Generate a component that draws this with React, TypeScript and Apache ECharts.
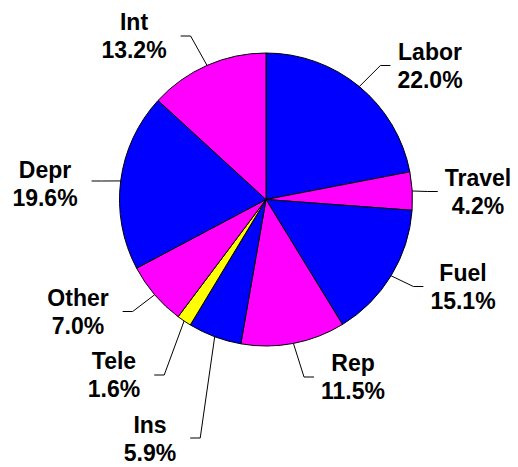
import React, { useEffect, useRef } from "react";
import * as echarts from "echarts";

const categories = ["Labor", "Travel", "Fuel", "Rep", "Ins", "Tele", "Other", "Depr", "Int"];
const values = [22.0, 4.2, 15.1, 11.5, 5.9, 1.6, 7.0, 19.6, 13.2];
const sliceColors = ["#0000FF", "#FF00FF", "#0000FF", "#FF00FF", "#0000FF", "#FFFF00", "#FF00FF", "#0000FF", "#FF00FF"];

// label block centers (layout only)
const labelCenters: number[][] = [
  [430, 65.5],
  [478, 191.5],
  [463, 286.5],
  [353, 377],
  [150, 439],
  [114, 375],
  [78, 311.5],
  [45, 184],
  [134, 36],
];
const lineDy = [0, 0, 0, 0, -1, 0, 0, -3, 0];

const CX = 266;
const CY = 199.5;
const R = 146.5;

export default function App() {
  const ref = useRef<HTMLDivElement>(null);
  useEffect(() => {
    document.body.style.margin = "0";
    if (!ref.current) return;
    const chart = echarts.init(ref.current, undefined, { renderer: "svg" });
    chart.setOption({
      animation: false,
      backgroundColor: "#ffffff",
      series: [
        {
          type: "pie",
          center: [CX, CY],
          radius: R,
          startAngle: 90,
          clockwise: true,
          avoidLabelOverlap: false,
          minAngle: 0,
          data: categories.map((name, i) => ({
            name,
            value: values[i],
            itemStyle: { color: sliceColors[i] },
          })),
          itemStyle: { borderColor: "#000000", borderWidth: 1 },
          label: {
            show: true,
            position: "outside",
            formatter: (p: any) => `${p.name}\n${Number(p.value).toFixed(1)}%`,
            fontFamily: "Liberation Sans, Arial, sans-serif",
            fontWeight: "bold",
            fontSize: 23,
            lineHeight: 28,
            color: "#000000",
          },
          labelLine: {
            show: true,
            smooth: false,
            lineStyle: { color: "#000000", width: 1 },
          },
          emphasis: { disabled: true },
          labelLayout: (params: any) => {
            const i = params.dataIndex;
            const [x, y] = labelCenters[i];
            const w = params.labelRect.width;
            const start = params.labelLinePoints ? params.labelLinePoints[0] : [CX, CY];
            const right = x > CX;
            const ly = y + lineDy[i];
            const endX = right ? x - w / 2 - 7 : x + w / 2 + 14;
            const elbowX = right ? endX - 10 : endX + 10;
            return {
              x,
              y,
              align: "center",
              verticalAlign: "middle",
              labelLinePoints: [start, [elbowX, ly], [endX, ly]],
            };
          },
        },
      ],
    });
    return () => chart.dispose();
  }, []);
  return <div ref={ref} style={{ width: 518, height: 467 }} />;
}
